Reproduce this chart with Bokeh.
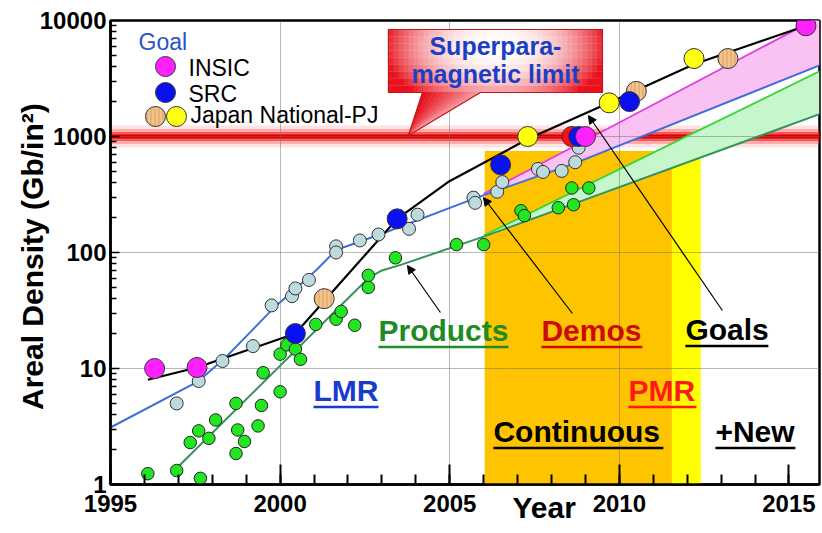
import numpy as np
from bokeh.plotting import figure
from bokeh.models import Label, Arrow, NormalHead, FixedTicker, PrintfTickFormatter, Range1d
from bokeh.embed import file_html
from bokeh.resources import INLINE

FONT = "Liberation Sans"

# ---------------- data ----------------
demo_year = [1996.95, 1997.6, 1998.3, 1999.2, 1999.75, 2000.35, 2000.45, 2000.85,
             2001.65, 2001.65, 2002.35, 2002.9, 2003.8, 2004.05, 2005.7, 2005.75,
             2006.4, 2006.55, 2007.6, 2007.75, 2008.3, 2008.7, 2008.8]
demo_density = [5.0, 7.8, 11.6, 15.6, 35, 42, 49, 58,
                113, 100, 127, 143, 160, 212, 297, 268,
                334, 405, 525, 495, 505, 600, 800]

product_year = [1996.1, 1996.95, 1997.65, 1997.35, 1997.6, 1997.9, 1998.1, 1998.7,
                1998.75, 1998.95, 1998.7, 1999.45, 1999.35, 1999.5, 2000.0, 2000.0,
                2000.2, 2000.45, 2000.6, 2001.05, 2001.65, 2001.8, 2002.2, 2002.6,
                2002.6, 2003.4, 2005.2, 2006.0, 2007.1, 2007.2, 2008.2, 2008.65,
                2008.6, 2009.1]
product_density = [1.24, 1.32, 1.13, 2.3, 2.9, 2.5, 3.6, 5.0,
                   2.95, 2.35, 1.85, 4.8, 3.2, 9.2, 6.3, 13.3,
                   16, 14.7, 12, 24, 26.6, 31, 23.6, 50,
                   63.5, 90, 117, 117, 229, 208, 243, 258,
                   360, 360]

insic_year = [1996.3, 1997.55, 2009.0, 2015.5]
insic_density = [10, 10.2, 1000, 9000]
src_year = [2000.45, 2003.45, 2006.5, 2008.8, 2010.3]
src_density = [20, 195, 570, 1000, 2000]
japan_tan_year = [2001.3, 2010.5, 2013.2]
japan_tan_density = [40, 2450, 4700]
japan_yellow_year = [2007.3, 2009.7, 2012.2]
japan_yellow_density = [1000, 1950, 4700]
red_goal_year = [2008.6]
red_goal_density = [1000]

lmr_trend_year = [1995.0, 1997.6, 1998.4, 1999.15, 1999.8, 2000.5, 2001.1, 2001.65,
                  2003.0, 2005.7, 2008.7, 2015.9]
lmr_trend_density = [3.1, 7.8, 12.5, 21, 33, 50, 72, 105, 145, 290, 590, 4100]

product_trend_year = [1996.95, 2002.6, 2003.0, 2003.6, 2006.0, 2015.9]
product_trend_density = [1.38, 60, 70, 79, 137, 1560]

goal_trend_year = [1996.1, 1997.55, 2000.45, 2003.45, 2004.95, 2007.3, 2009.7, 2012.2, 2015.5]
goal_trend_density = [8.0, 10.2, 20, 195, 405, 950, 1950, 4200, 9000]

pmr_band_year = [2006.0, 2008.7, 2015.9]
pmr_band_low = [311, 590, 4100]
pmr_band_high = [320, 833, 10700]

prod_band_year = [2006.0, 2015.9]
prod_band_low = [137, 1560]
prod_band_high = [140, 3650]

continuous_years = (2006.03, 2011.55)
new_years = (2011.55, 2012.4)
era_top = 750
limit_density = 1000

x_ticks = [1995, 2000, 2005, 2010, 2015]
y_ticks = [1, 10, 100, 1000, 10000]

# ---------------- helpers: reference pixel -> data coords (annotations) ----------------
def sx(px):
    return 1995.0 + (px - 110.0) / 33.93

def sy(py):
    return 10 ** ((484.0 - py) / 116.0)

X0, X1 = 1995.0, 2015.9
Y0, Y1 = 1.0, 10000.0

p = figure(width=822, height=533, x_range=Range1d(X0, X1), y_range=Range1d(Y0, Y1),
           y_axis_type="log", output_backend="svg", toolbar_location=None,
           min_border_left=110, min_border_right=3, min_border_top=20, min_border_bottom=49)
p.background_fill_color = "white"
p.border_fill_color = "white"
p.outline_line_color = "black"
p.outline_line_width = 2.5

# axes
p.xaxis.ticker = FixedTicker(ticks=x_ticks, minor_ticks=list(range(1995, 2016)))
minor_y = [m * 10 ** e for e in range(0, 4) for m in range(2, 10)]
p.yaxis.ticker = FixedTicker(ticks=y_ticks, minor_ticks=minor_y)
p.yaxis.formatter = PrintfTickFormatter(format="%d")
for ax in (p.xaxis[0], p.yaxis[0]):
    ax.axis_line_width = 2.5
    ax.axis_line_color = "black"
    ax.major_tick_out = 0
    ax.minor_tick_out = 0
    ax.major_tick_line_color = "black"
    ax.minor_tick_line_color = "black"
    ax.major_label_text_font = FONT
    ax.major_label_text_font_style = "bold"
    ax.major_label_text_font_size = "24px"
    ax.major_label_text_color = "black"
    ax.axis_label_text_font = FONT
    ax.axis_label_text_font_style = "bold"
    ax.axis_label_text_font_size = "30px"
    ax.axis_label_text_color = "black"
p.xaxis.major_tick_in = 20
p.xaxis.minor_tick_in = 10
p.xaxis.major_tick_line_width = 2
p.xaxis.minor_tick_line_width = 2
p.xaxis.major_label_standoff = 10
# "Year" sits right of centre in the reference: pad with no-break spaces
p.xaxis.axis_label = "\u00a0" * 19 + "Year"
p.xaxis.axis_label_standoff = -24
p.yaxis.major_tick_in = 9
p.yaxis.minor_tick_in = 6
p.yaxis.major_tick_line_width = 1.5
p.yaxis.minor_tick_line_width = 1.5
p.yaxis.major_label_standoff = 4
p.yaxis.axis_label = "Areal Density  (Gb/in²)"
p.yaxis.axis_label_standoff = -12

p.xgrid.ticker = FixedTicker(ticks=[2000, 2005, 2010])
p.ygrid.ticker = FixedTicker(ticks=[10, 100, 1000])
for g in (p.xgrid[0], p.ygrid[0]):
    g.grid_line_color = "#707070"
    g.grid_line_dash = "1 1"
    g.grid_line_width = 1

# era rectangles
p.quad(left=[continuous_years[0]], right=[continuous_years[1]], bottom=[Y0], top=[era_top],
       fill_color="#ffc400", line_color=None, level="image")
p.quad(left=[new_years[0]], right=[new_years[1]], bottom=[Y0], top=[era_top],
       fill_color="#ffff00", line_color=None, level="image")

# superparamagnetic limit band
for w, c, a in [(22, "#ff6060", 0.18), (15, "#ff3030", 0.3), (9, "#ff1010", 0.55), (4, "#d80000", 1.0)]:
    p.line([X0, X1], [limit_density, limit_density], line_width=w, line_color=c,
           line_alpha=a, level="image")

# goal bands
p.varea(x=pmr_band_year, y1=pmr_band_low, y2=pmr_band_high, fill_color="#f9c2f3", level="image")
p.varea(x=prod_band_year, y1=prod_band_low, y2=prod_band_high, fill_color="#c6f7cc", level="image")

# trend lines
p.line(prod_band_year, prod_band_high, line_color="#33d633", line_width=1.8)
p.line(pmr_band_year, pmr_band_high, line_color="#e13ee0", line_width=1.8)
p.line(lmr_trend_year, lmr_trend_density, line_color="#3f6fd8", line_width=2)
p.line(product_trend_year, product_trend_density, line_color="#33935c", line_width=2)
p.line(goal_trend_year, goal_trend_density, line_color="black", line_width=2.2)

# points
TAN = dict(fill_color="#f4c38a", line_color="#333", hatch_pattern="|", hatch_color="#c8894a",
           hatch_scale=4, hatch_weight=1, hatch_alpha=0.6)
p.scatter(product_year, product_density, size=12.5, fill_color="#22e622", line_color="#222", line_width=1)
p.scatter(demo_year, demo_density, size=13, fill_color="#bddadf", line_color="#333", line_width=1)
p.scatter(japan_tan_year, japan_tan_density, size=20, line_width=1, **TAN)
p.scatter(japan_yellow_year, japan_yellow_density, size=20, fill_color="#ffff10", line_color="#333", line_width=1)
p.scatter(red_goal_year, red_goal_density, size=20, fill_color="#ff1010", line_color="#333", line_width=1)
p.scatter(src_year, src_density, size=20, fill_color="#0a10f0", line_color="#333", line_width=1)
p.scatter(insic_year, insic_density, size=20, fill_color="#ff22ff", line_color="#333", line_width=1)

# legend markers
p.scatter([sx(165)], [sy(66)], size=20, fill_color="#ff22ff", line_color="#333")
p.scatter([sx(165)], [sy(92)], size=20, fill_color="#0a10f0", line_color="#333")
p.scatter([sx(155)], [sy(116)], size=20, **TAN)
p.scatter([sx(176)], [sy(116)], size=20, fill_color="#ffff10", line_color="#333")

# callout box with gradient
bx0, bx1, by0, by1 = 388, 602, 29, 92
red = np.array([232, 18, 30])
white = np.array([255, 255, 255])
cols = np.linspace(bx0, bx1, 44)
rows = np.linspace(by0, by1, 10)
ql, qr, qb, qt, qc = [], [], [], [], []
for i in range(len(cols) - 1):
    for j in range(len(rows) - 1):
        cxp = 0.5 * (cols[i] + cols[i + 1])
        cyp = 0.5 * (rows[j] + rows[j + 1])
        d = np.hypot((cxp - 495) / 112.0, (cyp - 46) / 66.0)
        t = min(d, 1.0) ** 2.3
        c = (white * (1 - t) + red * t).astype(int)
        ql.append(sx(cols[i])); qr.append(sx(cols[i + 1]) + 0.02)
        qt.append(sy(rows[j])); qb.append(sy(rows[j + 1]) * 0.995)
        qc.append("#%02x%02x%02x" % tuple(c))
p.quad(left=ql, right=qr, bottom=qb, top=qt, fill_color=qc, line_color=None)

# tail
tip = (408, 135)
base = np.linspace(422, 480, 12)
for k in range(len(base) - 1):
    f = k / (len(base) - 2)
    c = (red * (1 - 0.55 * f) + white * 0.55 * f).astype(int)
    p.patch([sx(tip[0]), sx(base[k]), sx(base[k + 1]) + 0.02],
            [sy(tip[1]), sy(by1 - 0.5), sy(by1 - 0.5)],
            fill_color="#%02x%02x%02x" % tuple(c), line_color=None)
outline_px = [(bx0, by0), (bx1, by0), (bx1, by1), (480, by1), tip, (422, by1), (bx0, by1)]
p.patch([sx(a) for a, b in outline_px], [sy(b) for a, b in outline_px],
        fill_alpha=0, line_color="#c01818", line_width=1.2)

# texts (py is the reference baseline; Label anchor sits ~0.39 em above it)
def txt(s, px, py, color, size, style="bold", align="left"):
    p.add_layout(Label(x=sx(px), y=sy(py - 0.39 * size), text=s, text_color=color,
                       text_font=FONT, text_font_size="%dpx" % size,
                       text_font_style=style, text_align=align,
                       text_baseline="alphabetic"))

txt("Superpara-", 495, 55, "#1c3ec4", 25, align="center")
txt("magnetic limit", 495, 83, "#1c3ec4", 25, align="center")

txt("Goal", 138, 50, "#2a52c8", 23, style="normal")
txt("INSIC", 188, 76, "black", 23, style="normal")
txt("SRC", 188, 102, "black", 23, style="normal")
txt("Japan National-PJ", 190, 123, "black", 23, style="normal")

words = [("Products", 378, 342, 130, "#1f8b24"),
         ("Demos", 541, 342, 101, "#cc0a0a"),
         ("Goals", 685, 341, 83, "black"),
         ("LMR", 313, 402, 65, "#1a3ccc"),
         ("PMR", 628, 402, 68, "#ff1a1a"),
         ("Continuous", 493, 443, 170, "black"),
         ("+New", 715, 443, 80, "black")]
for s, px, py, w, c in words:
    txt(s, px, py, c, 30)
    p.segment(x0=[sx(px)], y0=[sy(py + 4.5)], x1=[sx(px + w)], y1=[sy(py + 4.5)],
              line_color=c, line_width=2.5)

# arrows
for (x_s, y_s), (x_e, y_e) in [((440, 312), (407, 265)),
                               ((572, 313), (483, 197)),
                               ((722, 310), (588, 115))]:
    p.add_layout(Arrow(end=NormalHead(size=8, fill_color="black", line_color="black"),
                       x_start=sx(x_s), y_start=sy(y_s), x_end=sx(x_e), y_end=sy(y_e),
                       line_color="black", line_width=1.2))

open("out.html", "w").write(file_html(p, INLINE))
